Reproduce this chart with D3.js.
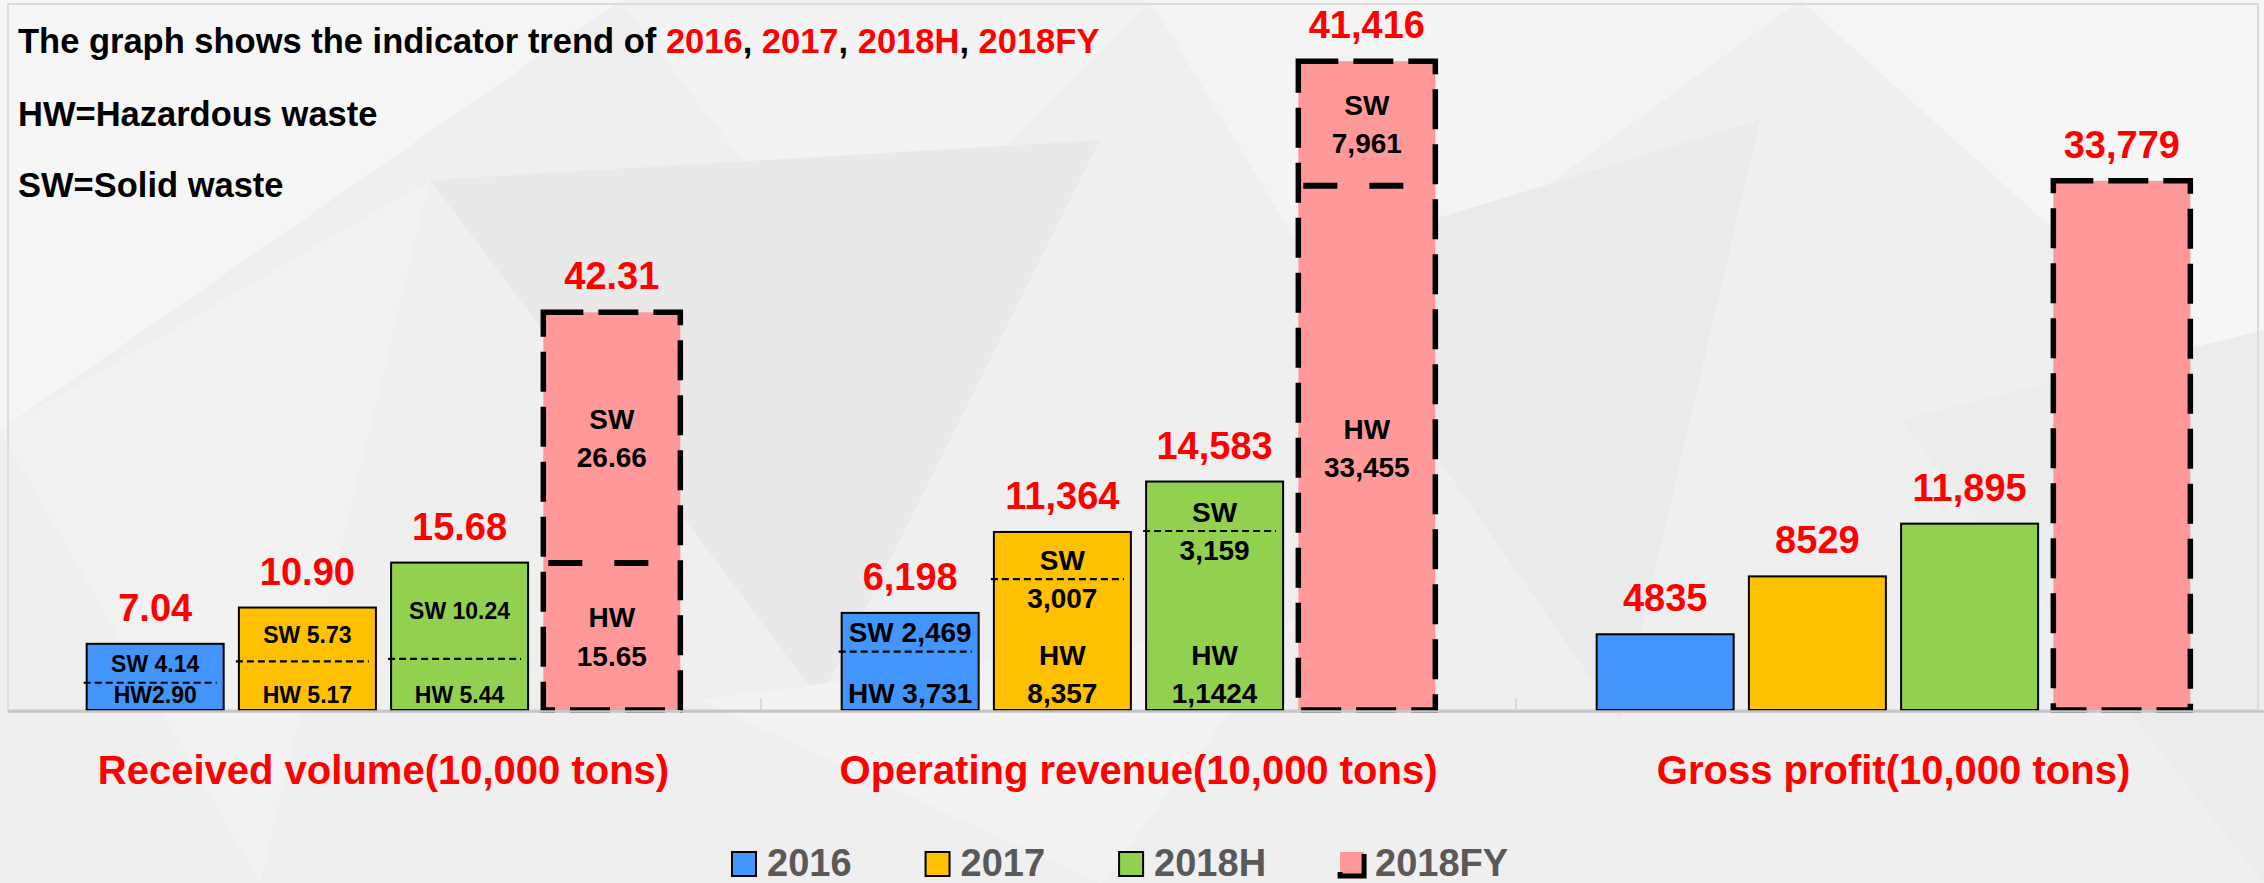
<!DOCTYPE html>
<html>
<head>
<meta charset="utf-8">
<script src="https://cdn.jsdelivr.net/npm/d3@7"></script>
<style>
  body { margin: 0; background: #efefef; }
  svg { display: block; font-family: "Liberation Sans", Arial, sans-serif; font-weight: bold; }
</style>
</head>
<body>
<svg id="chart" width="2264" height="883"></svg>
<script>
// categories and series
const groups = ["Received volume(10,000 tons)", "Operating revenue(10,000 tons)", "Gross profit(10,000 tons)"];
const years = ["2016", "2017", "2018H", "2018FY"];
const colors = ["#4295fb", "#ffc000", "#92d050", "#ff9999"];

const volumeHW = [2.90, 5.17, 5.44, 15.65];
const volumeSW = [4.14, 5.73, 10.24, 26.66];
const volumeTotal = [7.04, 10.90, 15.68, 42.31];
const revenueHW = [3731, 8357, 11424, 33455];
const revenueSW = [2469, 3007, 3159, 7961];
const revenueTotal = [6198, 11364, 14583, 41416];
const profitTotal = [4835, 8529, 11895, 33779];

// labels as they are printed on the slide
const volumeTotalLabels = ["7.04", "10.90", "15.68", "42.31"];
const volumeSWLabels = [["SW 4.14"], ["SW 5.73"], ["SW 10.24"], ["SW", "26.66"]];
const volumeHWLabels = [["HW2.90"], ["HW 5.17"], ["HW 5.44"], ["HW", "15.65"]];
const revenueTotalLabels = ["6,198", "11,364", "14,583", "41,416"];
const revenueSWLabels = [["SW 2,469"], ["SW", "3,007"], ["SW", "3,159"], ["SW", "7,961"]];
const revenueHWLabels = [["HW 3,731"], ["HW", "8,357"], ["HW", "1,1424"], ["HW", "33,455"]];
const profitTotalLabels = ["4835", "8529", "11,895", "33,779"];

const W = 2264, H = 883;
const baseY = 710, topY = 5;
const svg = d3.select("#chart");

// faint low-poly background
const bg = svg.append("g");
bg.append("rect").attr("width", W).attr("height", H).attr("fill", "#efefef");
const bgTris = [
  [[0, 0], [620, 0], [0, 430], "#f6f6f6"],
  [[620, 0], [1150, 0], [850, 300], "#f3f3f3"],
  [[430, 180], [1100, 140], [820, 700], "#e9e9e9"],
  [[0, 430], [430, 180], [260, 883], "#f2f2f2"],
  [[1150, 0], [1800, 0], [1350, 330], "#f4f4f4"],
  [[1300, 260], [1760, 120], [1620, 720], "#eaeaea"],
  [[1800, 0], [2264, 0], [2264, 420], "#f6f6f6"],
  [[1900, 420], [2264, 330], [2264, 883], "#ececec"],
  [[700, 700], [1300, 620], [1100, 883], "#f3f3f3"]
];
bg.selectAll("polygon").data(bgTris).join("polygon")
  .attr("points", d => d.slice(0, 3).map(p => p.join(",")).join(" "))
  .attr("fill", d => d[3]);

// plot frame
svg.append("rect").attr("x", 8).attr("y", 4).attr("width", 2250).attr("height", baseY - 4)
  .attr("fill", "none").attr("stroke", "#dcdcdc").attr("stroke-width", 2);

// scales: volume has its own axis, revenue and profit share one
const yVolume = d3.scaleLinear().domain([0, 75]).range([baseY, topY]);
const yMoney = d3.scaleLinear().domain([0, 45000]).range([baseY, topY]);
const x0 = d3.scaleBand().domain(groups).range([6, 2271]);
const x1 = d3.scaleBand().domain(years).range([0, x0.bandwidth()]).paddingInner(0.1).paddingOuter(0.53);

const bars = [];
years.forEach((yr, i) => {
  bars.push({ group: groups[0], year: yr, i, y: yVolume, total: volumeTotal[i], hw: volumeHW[i],
    label: volumeTotalLabels[i], swText: volumeSWLabels[i], hwText: volumeHWLabels[i],
    fs: volumeSWLabels[i].length > 1 ? 28 : 23 });
  bars.push({ group: groups[1], year: yr, i, y: yMoney, total: revenueTotal[i], hw: revenueHW[i],
    label: revenueTotalLabels[i], swText: revenueSWLabels[i], hwText: revenueHWLabels[i], fs: 28 });
  bars.push({ group: groups[2], year: yr, i, y: yMoney, total: profitTotal[i], hw: null,
    label: profitTotalLabels[i] });
});

const bx = d => x0(d.group) + x1(d.year);
const isFY = d => d.year === "2018FY";
const bw = x1.bandwidth();

const barG = svg.append("g");
barG.selectAll("rect").data(bars).join("rect")
  .attr("x", bx)
  .attr("y", d => d.y(d.total))
  .attr("width", bw)
  .attr("height", d => baseY - d.y(d.total))
  .attr("fill", d => colors[d.i])
  .attr("stroke", "#000")
  .attr("stroke-width", d => isFY(d) ? 5.5 : 2)
  .attr("stroke-dasharray", d => isFY(d) ? "40,15" : null);

// HW / SW split lines
const split = bars.filter(d => d.hw != null);
barG.selectAll("line").data(split).join("line")
  .attr("x1", d => bx(d) + (isFY(d) ? 5 : -3))
  .attr("x2", d => bx(d) + bw - (isFY(d) ? 18 : 7))
  .attr("y1", d => d.y(d.hw))
  .attr("y2", d => d.y(d.hw))
  .attr("stroke", "#000")
  .attr("stroke-width", d => isFY(d) ? 6 : 2.2)
  .attr("stroke-dasharray", d => isFY(d) ? "34,32" : "7,4");

// axis line + small ticks between groups
svg.append("line").attr("x1", 8).attr("x2", W).attr("y1", baseY + 1.5).attr("y2", baseY + 1.5)
  .attr("stroke", "#c4c4c4").attr("stroke-width", 2.5);
svg.selectAll("line.tick").data(groups.slice(1)).join("line").attr("class", "tick")
  .attr("x1", d => x0(d)).attr("x2", d => x0(d))
  .attr("y1", baseY - 12).attr("y2", baseY + 1)
  .attr("stroke", "#d2d2d2").attr("stroke-width", 1.5);

// totals above bars
svg.append("g").selectAll("text").data(bars).join("text")
  .attr("x", d => bx(d) + bw / 2)
  .attr("y", d => d.y(d.total) - 23)
  .attr("text-anchor", "middle")
  .attr("font-size", 38)
  .attr("fill", "#ff0000")
  .text(d => d.label);

// first-baseline of a label block inside a segment
const LH = 1.36, CAP = 0.72;
function swBlock(d, top, mid) {
  const lh = d.fs * LH, cap = d.fs * CAP, n = d.swText.length;
  const h = (n - 1) * lh + cap;
  if (mid - top >= h + 16) return (top + mid) / 2 - h / 2 + cap;
  // too tight: let the split line run between the two lines
  return mid - (lh - cap) / 2;
}
function hwBlock(d, mid) {
  const lh = d.fs * LH, cap = d.fs * CAP, n = d.hwText.length;
  const h = (n - 1) * lh + cap;
  if (isFY(d)) return (mid + baseY) / 2 - h / 2 + cap;
  return baseY - 7 - (n - 1) * lh;
}
const inner = [];
split.forEach(d => {
  const top = d.y(d.total), mid = d.y(d.hw);
  inner.push({ x: bx(d) + bw / 2, lines: d.swText, fs: d.fs, y0: swBlock(d, top, mid) });
  inner.push({ x: bx(d) + bw / 2, lines: d.hwText, fs: d.fs, y0: hwBlock(d, mid) });
});
const innerT = svg.append("g").selectAll("text").data(inner).join("text")
  .attr("text-anchor", "middle")
  .attr("font-size", d => d.fs)
  .attr("fill", "#000");
innerT.selectAll("tspan").data(d => d.lines.map((t, k) => ({ t, k, p: d }))).join("tspan")
  .attr("x", d => d.p.x)
  .attr("y", d => d.p.y0 + d.k * d.p.fs * LH)
  .text(d => d.t);

// group names
svg.append("g").selectAll("text").data(groups).join("text")
  .attr("x", d => x0(d) + x0.bandwidth() / 2)
  .attr("y", 784)
  .attr("text-anchor", "middle")
  .attr("font-size", 40)
  .attr("fill", "#ff0000")
  .text(d => d);

// notes top-left
const title = svg.append("text").attr("x", 18).attr("y", 53).attr("font-size", 34.5).attr("fill", "#000");
title.append("tspan").text("The graph shows the indicator trend of ");
years.forEach((yr, i) => {
  title.append("tspan").attr("fill", "#ff0000").text(yr);
  if (i < years.length - 1) title.append("tspan").text(", ");
});
svg.append("text").attr("x", 18).attr("y", 126).attr("font-size", 34.5).text("HW=Hazardous waste");
svg.append("text").attr("x", 18).attr("y", 197).attr("font-size", 34.5).text("SW=Solid waste");

// legend
const legend = svg.append("g");
let lx = 732;
years.forEach((yr, i) => {
  const fy = yr === "2018FY";
  legend.append("rect").attr("x", lx).attr("y", 852).attr("width", 24).attr("height", 24)
    .attr("fill", colors[i]).attr("stroke", "#000")
    .attr("stroke-width", fy ? 5 : 2)
    .attr("stroke-dasharray", fy ? "0,26,50,30" : null);
  const t = legend.append("text").attr("x", lx + 35).attr("y", 876)
    .attr("font-size", 38).attr("fill", "#595959").text(yr);
  lx += 35 + t.node().getComputedTextLength() + 74;
});
</script>
</body>
</html>
